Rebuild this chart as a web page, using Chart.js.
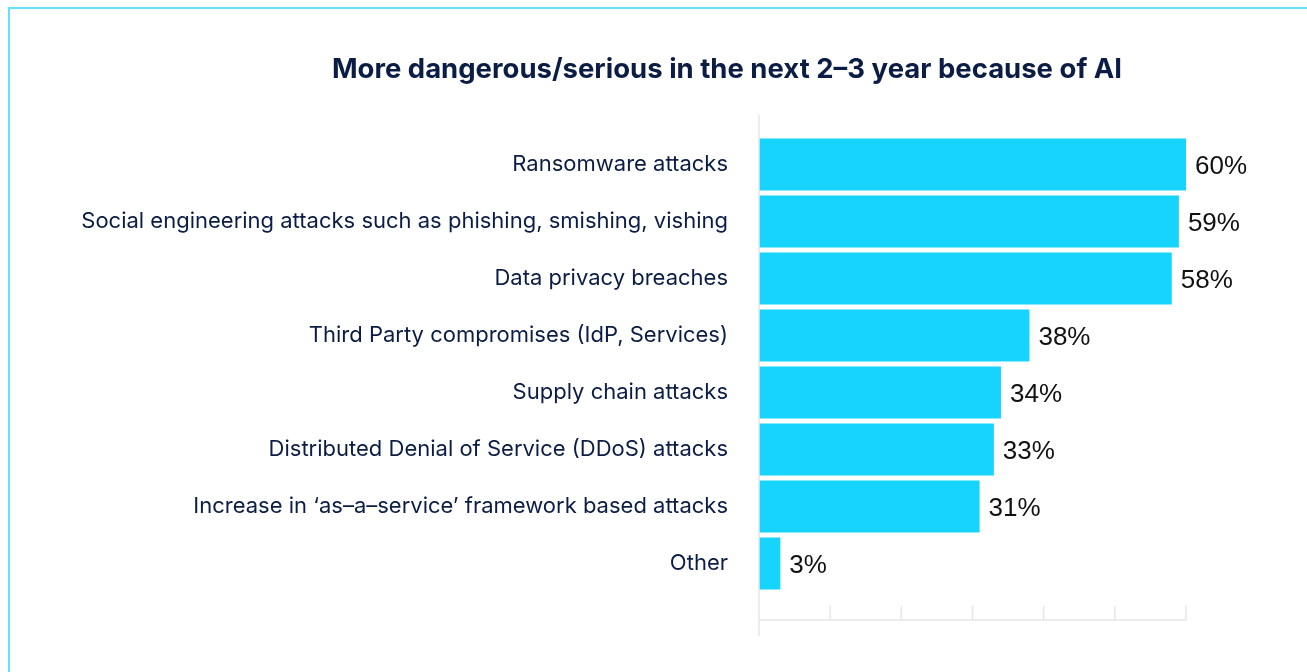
<!DOCTYPE html>
<html>
<head>
<meta charset="utf-8">
<script src="https://cdn.jsdelivr.net/npm/chart.js@4.4.1/dist/chart.umd.min.js"></script>
<style>
  html, body { margin: 0; padding: 0; background: #fff; overflow: hidden; }
  #frame { position: absolute; left: 8px; top: 7px; width: 1400px; height: 800px; border: 2px solid #63e3fb; }
  #wrap { position: absolute; left: 0; top: 0; width: 1307px; height: 672px; }
</style>
</head>
<body>
<div id="frame"></div>
<div id="wrap"><canvas id="chartAI"></canvas></div>
<script>
// data
var chartTitle = 'More dangerous/serious in the next 2\u20133 year because of AI';
var categories = [
  'Ransomware attacks',
  'Social engineering attacks such as phishing, smishing, vishing',
  'Data privacy breaches',
  'Third Party compromises (IdP, Services)',
  'Supply chain attacks',
  'Distributed Denial of Service (DDoS) attacks',
  'Increase in \u2018as\u2013a\u2013service\u2019 framework based attacks',
  'Other'
];
var percents = [60, 59, 58, 38, 34, 33, 31, 3];
var xTicks = [0, 10, 20, 30, 40, 50, 60];

var navy = '#0b1d45';
var barColor = '#17d4ff';

// title sits off-centre in the original, so draw it ourselves
var titleText = {
  id: 'titleText',
  afterDraw: function (chart) {
    var ctx = chart.ctx;
    ctx.save();
    ctx.font = 'bold 27.5px Inter, "Noto Sans", sans-serif';
    ctx.fillStyle = navy;
    ctx.textAlign = 'center';
    ctx.textBaseline = 'middle';
    ctx.fillText(chartTitle, 727, 70);
    ctx.restore();
  }
};

// value labels at the end of each bar
var valueLabels = {
  id: 'valueLabels',
  afterDatasetsDraw: function (chart) {
    var ctx = chart.ctx;
    var meta = chart.getDatasetMeta(0);
    ctx.save();
    ctx.font = '26px "Liberation Sans", Arial, sans-serif';
    ctx.fillStyle = '#111';
    ctx.textAlign = 'left';
    ctx.textBaseline = 'middle';
    for (var i = 0; i < meta.data.length; i++) {
      var bar = meta.data[i];
      ctx.fillText(percents[i] + '%', bar.x + 9, bar.y + 2);
    }
    ctx.restore();
  }
};

// axis lines + upward tick marks like the original
var axisDeco = {
  id: 'axisDeco',
  afterDraw: function (chart) {
    var ctx = chart.ctx;
    var area = chart.chartArea;
    var xs = chart.scales.x;
    var x0 = xs.getPixelForValue(xTicks[0]);
    var xN = xs.getPixelForValue(xTicks[xTicks.length - 1]);
    var base = area.bottom + 28;
    ctx.save();
    ctx.strokeStyle = '#e6e6e6';
    ctx.lineWidth = 1.5;
    ctx.beginPath();
    ctx.moveTo(x0, area.top - 21);
    ctx.lineTo(x0, area.bottom + 44);
    ctx.moveTo(x0, base);
    ctx.lineTo(xN, base);
    for (var i = 1; i < xTicks.length; i++) {
      var px = xs.getPixelForValue(xTicks[i]);
      ctx.moveTo(px, base - 14);
      ctx.lineTo(px, base);
    }
    ctx.stroke();
    ctx.restore();
  }
};

new Chart(document.getElementById('chartAI'), {
  type: 'bar',
  data: {
    labels: categories,
    datasets: [{
      label: 'More dangerous/serious',
      data: percents,
      backgroundColor: barColor,
      borderWidth: 0,
      categoryPercentage: 1,
      barPercentage: 0.91
    }]
  },
  options: {
    indexAxis: 'y',
    responsive: true,
    maintainAspectRatio: false,
    animation: false,
    layout: { padding: { left: 0, right: 121, top: 136, bottom: 80 } },
    plugins: {
      legend: { display: false },
      tooltip: { enabled: false },
      title: { display: false }
    },
    scales: {
      x: {
        display: false,
        min: 0,
        max: 60
      },
      y: {
        afterFit: function (scale) { scale.width = 759; },
        grid: { display: false, drawTicks: false },
        border: { display: false },
        ticks: {
          color: navy,
          padding: 31,
          font: { family: 'Inter, "Noto Sans", sans-serif', size: 22 }
        }
      }
    }
  },
  plugins: [titleText, valueLabels, axisDeco]
});
</script>
</body>
</html>
